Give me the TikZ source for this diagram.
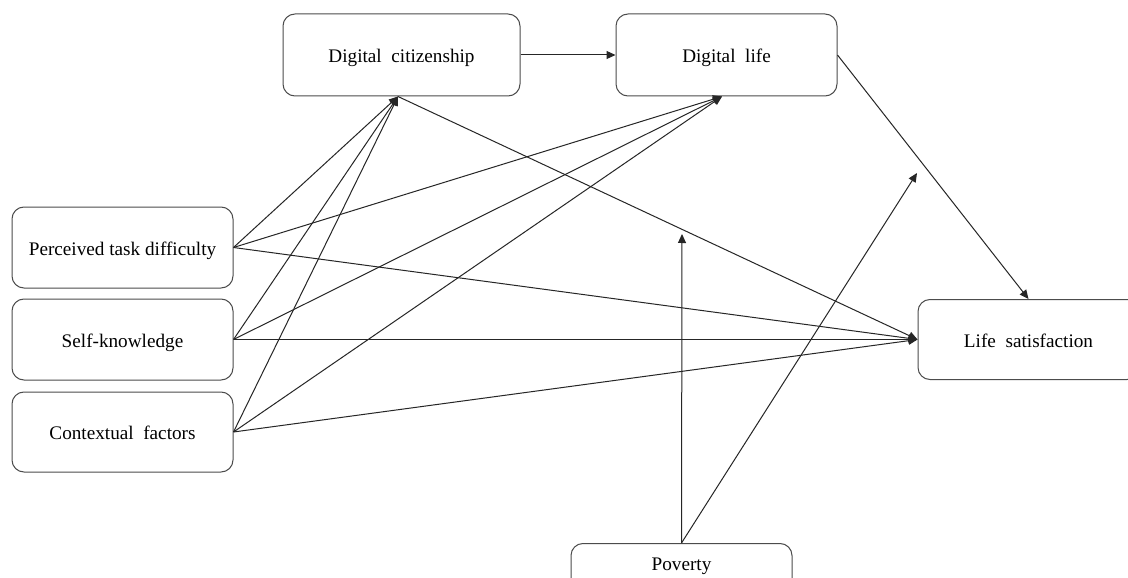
\documentclass[tikz,border=0pt]{standalone}
\usepackage{fontspec}
\setmainfont{Liberation Serif}
\usetikzlibrary{arrows.meta}
\begin{document}
\begin{tikzpicture}[x=1pt,y=-1pt,
  box/.style={draw=black!70, line width=1pt, rounded corners=12pt, fill=white,
    inner sep=0pt, minimum width=221pt, minimum height=81pt,
    text height=15pt, text depth=0pt,
    font=\fontsize{19.2}{23}\selectfont, text=black},
  link/.style={draw=black!85, line width=1pt, -{Triangle[length=9pt,width=8pt]}}]
\clip (0,0) rectangle (1128,578);
\fill[white] (0,0) rectangle (1128,578);
% nodes
\node[box, minimum width=237pt, minimum height=82pt] (dc) at (401.5,55) {Digital\ \ citizenship};
\node[box, minimum height=82pt] (dl) at (726.5,55) {Digital\ \ life};
\node[box] (ptd) at (122.5,247.5) {Perceived task difficulty};
\node[box] (sk) at (122.5,339.5) {Self-knowledge};
\node[box, minimum height=80pt] (cf) at (122.5,432) {Contextual\ \ factors};
\node[box, minimum height=80pt] (ls) at (1028.5,339.5) {Life\ \ satisfaction};
\node[box, anchor=north, minimum height=80pt, text height=27pt, text depth=53pt] (pov) at (681.5,543) {Poverty};
% moderation targets
\coordinate (m1) at (682,234);
\coordinate (m2) at (917,173);
% connectors
\draw[link] (dc.east) -- (dl.west);
\draw[link] (dl.east) -- (ls.north);
\foreach \s in {ptd,sk,cf}{
  \draw[link] (\s.east) -- ([xshift=-3.5pt]dc.south);
  \draw[link] (\s.east) -- ([xshift=-4.5pt]dl.south);
  \draw[link] (\s.east) -- (ls.west);
}
\draw[link] ([xshift=-3.5pt]dc.south) -- (ls.west);
\draw[link] (pov.north) -- (m1);
\draw[link] (pov.north) -- (m2);
\end{tikzpicture}
\end{document}
